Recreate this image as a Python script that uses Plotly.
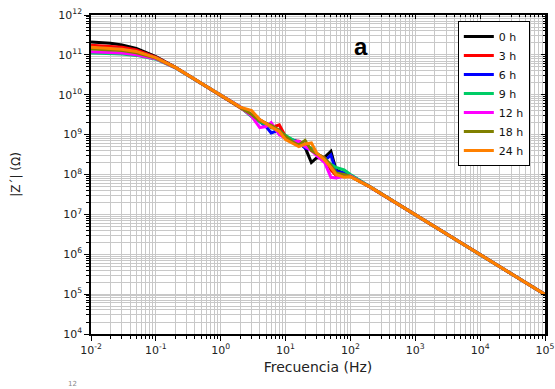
import plotly.graph_objects as go

freq = [0.01, 0.02, 0.03, 0.05, 0.1, 0.2, 0.5, 1, 2, 3, 4, 5, 6, 8, 10, 13, 16, 20, 25, 30,
        40, 50, 60, 80, 100, 200, 500, 1000, 10000, 100000]

z_0h = [2.1e11, 1.95e11, 1.78e11, 1.45e11, 9.0e10, 4.9e10, 1.95e10, 9.8e9, 4.9e9, 3.1e9,
        2.4e9, 1.9e9, 1.6e9, 1.2e9, 8.8e8, 6.6e8, 6.0e8, 4.8e8, 2.0e8, 2.6e8,
        2.7e8, 3.8e8, 1.3e8, 1.05e8, 9.5e7, 4.9e7, 1.96e7, 9.8e6, 9.8e5, 9.8e4]
z_3h = [1.75e11, 1.66e11, 1.55e11, 1.32e11, 8.8e10, 4.9e10, 1.95e10, 9.8e9, 4.9e9, 3.1e9,
        2.3e9, 1.9e9, 1.5e9, 1.75e9, 9.0e8, 7.0e8, 6.8e8, 5.5e8, 4.0e8, 3.3e8,
        2.6e8, 1.3e8, 9.5e7, 1.0e8, 9.0e7, 4.9e7, 1.96e7, 9.8e6, 9.8e5, 9.8e4]
z_6h = [1.5e11, 1.44e11, 1.36e11, 1.2e11, 8.5e10, 4.8e10, 1.95e10, 9.8e9, 4.9e9, 3.1e9,
        2.2e9, 1.6e9, 1.1e9, 1.3e9, 8.5e8, 7.5e8, 6.5e8, 4.6e8, 4.2e8, 3.2e8,
        2.2e8, 3.1e8, 1.2e8, 1.1e8, 9.2e7, 4.9e7, 1.96e7, 9.8e6, 9.8e5, 9.8e4]
z_9h = [1.12e11, 1.09e11, 1.05e11, 9.7e10, 7.8e10, 4.7e10, 1.95e10, 9.8e9, 4.9e9, 2.8e9,
        2.1e9, 1.8e9, 1.55e9, 1.2e9, 9.5e8, 7.2e8, 6.0e8, 5.0e8, 4.6e8, 3.5e8,
        2.4e8, 1.8e8, 1.5e8, 1.3e8, 1.0e8, 4.9e7, 1.96e7, 9.8e6, 9.8e5, 9.8e4]
z_12h = [1.2e11, 1.16e11, 1.11e11, 1.01e11, 8.0e10, 4.75e10, 1.95e10, 9.8e9, 4.9e9, 2.9e9,
         1.5e9, 1.6e9, 2.0e9, 1.0e9, 8.0e8, 6.5e8, 6.8e8, 5.0e8, 4.0e8, 3.0e8,
         2.0e8, 8.5e7, 8.2e7, 9.0e7, 9.3e7, 4.9e7, 1.96e7, 9.8e6, 9.8e5, 9.8e4]
z_18h = [1.4e11, 1.35e11, 1.28e11, 1.13e11, 8.3e10, 4.8e10, 1.95e10, 9.8e9, 4.9e9, 3.2e9,
         2.2e9, 1.9e9, 1.7e9, 1.3e9, 9.0e8, 6.5e8, 5.5e8, 7.2e8, 4.0e8, 3.3e8,
         2.6e8, 1.7e8, 1.1e8, 1.0e8, 9.0e7, 4.9e7, 1.96e7, 9.8e6, 9.8e5, 9.8e4]
z_24h = [1.55e11, 1.48e11, 1.39e11, 1.22e11, 8.5e10, 4.85e10, 1.95e10, 9.8e9, 4.9e9, 4.0e9,
         2.4e9, 1.9e9, 1.55e9, 1.2e9, 7.5e8, 6.0e8, 5.0e8, 5.8e8, 6.2e8, 3.5e8,
         2.3e8, 1.5e8, 1.0e8, 8.5e7, 8.8e7, 4.9e7, 1.96e7, 9.8e6, 9.8e5, 9.8e4]

series_names = ["0 h", "3 h", "6 h", "9 h", "12 h", "18 h", "24 h"]
series_values = [z_0h, z_3h, z_6h, z_9h, z_12h, z_18h, z_24h]
series_colors = ["#000000", "#ff0000", "#0000ff", "#00cc66", "#ff00ff", "#808000", "#ff8000"]

x_exponents = [-2, -1, 0, 1, 2, 3, 4, 5]
y_exponents = [4, 5, 6, 7, 8, 9, 10, 11, 12]

x_tickvals = [10.0 ** e for e in x_exponents]
x_ticktext = ["10<sup>%d</sup>" % e for e in x_exponents]
y_tickvals = [10.0 ** e for e in y_exponents]
y_ticktext = ["10<sup>%d</sup>" % e for e in y_exponents]
x_minor = [m * 10.0 ** e for e in x_exponents[:-1] for m in range(2, 10)]
y_minor = [m * 10.0 ** e for e in y_exponents[:-1] for m in range(2, 10)]

fig = go.Figure()
for name, vals, col in zip(series_names, series_values, series_colors):
    fig.add_trace(go.Scatter(x=freq, y=vals, mode="lines", name=name,
                             line=dict(color=col, width=3)))

# dummy trace so the mirrored top/right axes are drawn
fig.add_trace(go.Scatter(x=[None], y=[None], xaxis="x2", yaxis="y2",
                         showlegend=False, hoverinfo="skip"))

grid_col = "#c8c8c8"
tick_font = dict(family="DejaVu Sans", size=11, color="#222222")

common_x = dict(type="log", range=[-2, 5], tickmode="array", tickvals=x_tickvals,
                zeroline=False, automargin=False)
common_y = dict(type="log", range=[4, 12], tickmode="array", tickvals=y_tickvals,
                zeroline=False, automargin=False)

fig.update_layout(
    width=555, height=389,
    margin=dict(l=91, r=10, t=15, b=55, autoexpand=False),
    paper_bgcolor="white", plot_bgcolor="white",
    showlegend=True,
    legend=dict(x=0.808, y=0.981, xanchor="left", yanchor="top",
                bgcolor="white", bordercolor="black", borderwidth=1,
                font=dict(family="DejaVu Sans", size=11, color="#111111"),
                tracegroupgap=0, itemwidth=30),
    xaxis=dict(**common_x, ticktext=x_ticktext,
               showline=True, linecolor="black", linewidth=1.5,
               ticks="outside", ticklen=5, tickcolor="black",
               showgrid=True, gridcolor=grid_col, gridwidth=1,
               minor=dict(tickmode="array", tickvals=x_minor, ticks="outside", ticklen=3,
                          tickcolor="black", showgrid=True, gridcolor=grid_col, gridwidth=1),
               tickfont=tick_font,
               title=dict(text="Frecuencia (Hz)", standoff=6,
                          font=dict(family="DejaVu Sans", size=14, color="#222222"))),
    yaxis=dict(**common_y, ticktext=y_ticktext,
               showline=True, linecolor="black", linewidth=1.5,
               ticks="outside", ticklen=5, tickcolor="black",
               showgrid=True, gridcolor=grid_col, gridwidth=1,
               minor=dict(tickmode="array", tickvals=y_minor, ticks="outside", ticklen=3,
                          tickcolor="black", showgrid=True, gridcolor=grid_col, gridwidth=1),
               tickfont=tick_font,
               title=dict(text="|Z´| (Ω)", standoff=35,
                          font=dict(family="DejaVu Sans", size=12, color="#222222"))),
    xaxis2=dict(**common_x, overlaying="x", side="top",
                showline=True, linecolor="black", linewidth=1.5,
                ticks="inside", ticklen=4, tickcolor="black",
                minor=dict(tickmode="array", tickvals=x_minor, ticks="inside", ticklen=2,
                           tickcolor="black"),
                showgrid=False, showticklabels=False),
    yaxis2=dict(**common_y, overlaying="y", side="right",
                showline=True, linecolor="black", linewidth=2.5,
                ticks="inside", ticklen=4, tickcolor="black",
                minor=dict(tickmode="array", tickvals=y_minor, ticks="inside", ticklen=2,
                           tickcolor="black"),
                showgrid=False, showticklabels=False),
    annotations=[
        dict(text="<b>a</b>", x=0.595, y=0.95, xref="paper", yref="paper",
             showarrow=False,
             font=dict(family="Liberation Sans, Arial, sans-serif", size=24, color="black")),
        dict(text="12", x=-0.055, y=-0.177, xref="paper", yref="paper",
             showarrow=False, font=dict(family="DejaVu Sans", size=7, color="#888888")),
    ],
)

# remove the browser's default 8px page margin so the figure sits at the window origin
fig.write_html("out.html",
               config={"displayModeBar": False},
               post_script="document.body.style.margin='0';document.body.style.overflow='hidden';")
